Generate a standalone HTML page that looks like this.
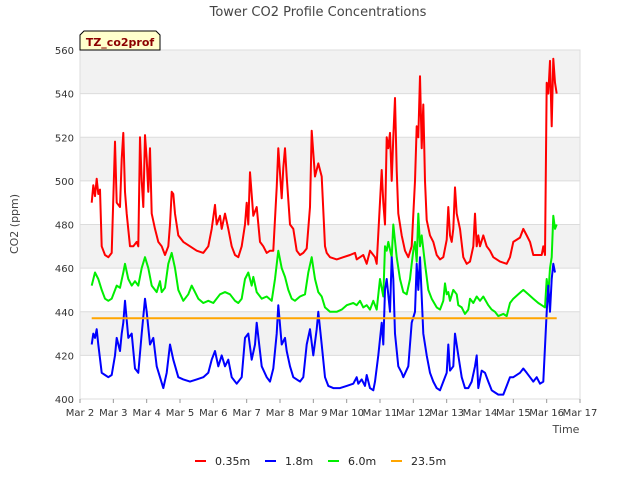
<!DOCTYPE html>
<html><head><meta charset="utf-8"><style>
body{margin:0;background:#fff;}
text{font-family:"DejaVu Sans","Liberation Sans",sans-serif;}
</style></head><body>
<svg id="chart" width="640" height="480" xmlns="http://www.w3.org/2000/svg">
<rect width="640" height="480" fill="#fff"/>
<g id="bands"></g>
<g id="grid"></g>
<rect x="80" y="50" width="500" height="349" fill="none" stroke="#ddd"/>
<g id="series"></g>
<g id="axes"></g>
<text x="318" y="16" text-anchor="middle" font-size="13" fill="#444">Tower CO2 Profile Concentrations</text>
<text transform="translate(18,224) rotate(-90)" text-anchor="middle" font-size="11" fill="#444">CO2 (ppm)</text>
<text x="566" y="433" text-anchor="middle" font-size="11" fill="#444">Time</text>
<g>
<path d="M84,31 L156,31 L160,35 L160,50 L80,50 L80,35 Z" fill="#ffffcc" stroke="#000" stroke-width="1"/>
<text x="120" y="46" text-anchor="middle" font-size="11" font-weight="bold" fill="#8b0000">TZ_co2prof</text>
</g>
<g id="legend"></g>
</svg>
<script>
const NS="http://www.w3.org/2000/svg";
const yTicks=[400,420,440,460,480,500,520,540,560];
const xTickLabels=["Mar 2","Mar 3","Mar 4","Mar 5","Mar 6","Mar 7","Mar 8","Mar 9","Mar 10","Mar 11","Mar 12","Mar 13","Mar 14","Mar 15","Mar 16","Mar 17"];
const xTickDays=[2,3,4,5,6,7,8,9,10,11,12,13,14,15,16,17];
const seriesNames=["0.35m","1.8m","6.0m","23.5m"];
const seriesColors=["#ff0000","#0000ff","#00ee00","#ffa500"];
const redT=[2.35,2.4,2.45,2.5,2.55,2.6,2.65,2.75,2.85,2.95,3.05,3.1,3.2,3.25,3.3,3.35,3.4,3.5,3.6,3.7,3.75,3.8,3.85,3.9,3.95,4.0,4.05,4.1,4.15,4.25,4.35,4.45,4.55,4.65,4.7,4.75,4.8,4.85,4.95,5.1,5.3,5.5,5.7,5.85,5.95,6.05,6.1,6.2,6.25,6.35,6.45,6.55,6.65,6.75,6.85,6.95,7.0,7.05,7.1,7.2,7.3,7.4,7.5,7.6,7.7,7.8,7.9,7.95,8.05,8.1,8.15,8.2,8.3,8.4,8.5,8.6,8.7,8.8,8.9,8.95,9.05,9.15,9.25,9.35,9.4,9.5,9.7,9.9,10.1,10.25,10.3,10.4,10.5,10.6,10.7,10.85,10.9,11.05,11.1,11.15,11.2,11.25,11.3,11.35,11.4,11.45,11.5,11.55,11.65,11.75,11.85,11.95,12.05,12.1,12.15,12.2,12.25,12.3,12.35,12.4,12.5,12.6,12.7,12.8,12.9,13.0,13.05,13.1,13.15,13.2,13.25,13.3,13.4,13.5,13.6,13.7,13.8,13.85,13.9,13.95,14.0,14.1,14.2,14.3,14.4,14.6,14.8,14.9,15.0,15.2,15.3,15.4,15.5,15.6,15.7,15.85,15.9,15.95,16.0,16.05,16.1,16.15,16.2,16.25,16.3];
const redV=[490,498,493,501,494,496,470,466,465,467,518,490,488,510,522,495,485,470,470,472,470,520,500,488,521,510,495,515,485,478,472,470,466,470,480,495,494,485,475,472,470,468,467,470,478,489,480,484,478,485,478,470,466,465,470,480,490,480,504,484,488,472,470,467,468,468,497,515,492,506,515,502,480,478,468,466,467,469,488,523,502,508,502,470,467,465,464,465,466,467,464,465,466,462,468,465,462,505,490,480,520,515,522,500,520,538,505,485,475,468,465,470,500,525,520,548,515,535,500,482,475,472,466,464,465,473,488,475,472,478,497,485,478,465,462,463,470,485,470,475,470,475,470,468,465,463,462,465,472,474,478,475,472,466,466,466,470,466,545,540,555,525,556,545,540];
const greenT=[2.35,2.45,2.55,2.65,2.75,2.85,2.95,3.1,3.2,3.3,3.35,3.45,3.55,3.65,3.75,3.85,3.95,4.05,4.15,4.3,4.4,4.45,4.55,4.65,4.75,4.85,4.95,5.1,5.25,5.35,5.45,5.55,5.7,5.85,6.0,6.2,6.35,6.5,6.65,6.75,6.85,6.95,7.05,7.15,7.2,7.3,7.45,7.6,7.75,7.85,7.95,8.05,8.15,8.25,8.35,8.45,8.6,8.75,8.85,8.95,9.05,9.15,9.25,9.35,9.5,9.7,9.85,10.0,10.2,10.3,10.4,10.5,10.6,10.7,10.8,10.9,11.0,11.1,11.15,11.2,11.25,11.35,11.4,11.5,11.6,11.7,11.8,11.9,11.95,12.0,12.05,12.1,12.15,12.2,12.25,12.35,12.45,12.55,12.7,12.8,12.9,12.95,13.0,13.05,13.1,13.2,13.3,13.35,13.45,13.55,13.65,13.7,13.8,13.9,14.0,14.1,14.25,14.35,14.45,14.55,14.7,14.8,14.9,15.0,15.15,15.3,15.45,15.6,15.75,15.85,15.95,16.0,16.05,16.1,16.15,16.2,16.25,16.3];
const greenV=[452,458,455,450,446,445,446,452,451,458,462,455,452,454,452,460,465,460,452,449,454,449,451,462,467,460,450,445,448,452,449,446,444,445,444,448,449,448,445,444,446,455,458,452,456,449,446,447,445,455,468,460,456,450,446,445,447,448,458,465,455,449,447,442,440,440,441,443,444,443,445,442,443,441,445,441,455,447,470,468,472,465,480,465,455,449,448,455,462,468,472,463,485,470,475,462,450,446,442,441,445,453,448,449,445,450,448,443,442,439,441,446,444,447,445,447,443,441,440,438,439,438,444,446,448,450,448,446,444,443,442,455,448,460,465,484,478,480];
const blueT=[2.35,2.4,2.45,2.5,2.55,2.65,2.75,2.85,2.95,3.05,3.1,3.2,3.25,3.3,3.35,3.45,3.55,3.65,3.75,3.85,3.95,4.0,4.1,4.2,4.3,4.4,4.5,4.6,4.7,4.8,4.95,5.1,5.3,5.5,5.7,5.85,5.95,6.05,6.15,6.25,6.35,6.45,6.55,6.7,6.85,6.95,7.05,7.15,7.25,7.3,7.45,7.6,7.7,7.8,7.9,7.95,8.05,8.15,8.2,8.3,8.4,8.6,8.7,8.8,8.9,9.0,9.1,9.15,9.25,9.35,9.45,9.6,9.8,10.0,10.2,10.3,10.35,10.45,10.55,10.6,10.7,10.8,10.85,10.95,11.05,11.1,11.15,11.2,11.3,11.35,11.4,11.45,11.55,11.65,11.7,11.85,11.95,12.05,12.1,12.15,12.2,12.3,12.4,12.5,12.6,12.7,12.8,12.9,13.0,13.05,13.1,13.2,13.25,13.35,13.45,13.55,13.65,13.75,13.85,13.9,13.95,14.05,14.15,14.25,14.35,14.45,14.55,14.7,14.8,14.9,15.0,15.2,15.3,15.4,15.5,15.6,15.7,15.8,15.9,16.0,16.05,16.1,16.15,16.2,16.25];
const blueV=[425,430,428,432,425,412,411,410,411,420,428,422,430,435,445,428,430,414,412,430,446,440,425,428,415,410,405,412,425,418,410,409,408,409,410,412,418,422,415,420,415,418,410,407,410,428,430,418,425,435,415,410,408,414,430,443,425,428,422,415,410,408,410,425,432,420,432,440,425,410,406,405,405,406,407,410,407,409,406,411,405,404,408,420,435,425,450,455,440,465,455,430,415,412,410,415,435,440,462,450,465,430,420,412,408,405,404,408,412,425,413,415,430,420,410,405,405,408,415,420,405,413,412,408,404,403,402,402,406,410,410,412,414,412,410,408,410,407,408,440,452,440,455,462,458];
const orangeT=[2.35,16.3];
const orangeV=[437,437];

const X0=80,X1=580,Y0=399,Y1=50;
function xs(d){return X0+(d-2)/(17-2)*(X1-X0);}
function ys(v){return Y0-(v-400)/(560-400)*(Y0-Y1);}
function mk(tag,attrs,parent){const e=document.createElementNS(NS,tag);for(const k in attrs)e.setAttribute(k,attrs[k]);parent.appendChild(e);return e;}

const bands=document.getElementById('bands');
for(let i=0;i<yTicks.length-1;i++){
  if(i%2===1){
    const r=mk('rect',{x:X0,y:ys(yTicks[i+1]),width:X1-X0,height:ys(yTicks[i])-ys(yTicks[i+1]),fill:'#f2f2f2'},bands);
    
    
  }
}
const grid=document.getElementById('grid');
const axes=document.getElementById('axes');
yTicks.forEach(v=>{
  const l=mk('line',{x1:X0,x2:X1,y1:ys(v),y2:ys(v),stroke:'#dcdcdc'},grid);
  
  
  const t=mk('text',{x:X0-6,y:ys(v)+4,'text-anchor':'end','font-size':'10',fill:'#333'},axes);
  t.textContent=v;
  
  
});
xTickDays.forEach((d,i)=>{
  const tk=mk('line',{x1:xs(d),x2:xs(d),y1:Y0,y2:Y0+4,stroke:'#999'},axes);
  
  
  const t=mk('text',{x:xs(d),y:Y0+17,'text-anchor':'middle','font-size':'10',fill:'#333'},axes);
  t.textContent=xTickLabels[i];
  
  
});
const sg=document.getElementById('series');
const allT=[redT,blueT,greenT,orangeT],allV=[redV,blueV,greenV,orangeV];
const order=[0,2,1,3];
order.forEach(i=>{
  const pts=allT[i].map((t,j)=>xs(t).toFixed(1)+','+ys(allV[i][j]).toFixed(1)).join(' ');
  const p=mk('polyline',{points:pts,fill:'none',stroke:seriesColors[i],'stroke-width':'2','stroke-linejoin':'round'},sg);
  
  
});
const lg=document.getElementById('legend');
const lx=[195,265,328,391];
seriesNames.forEach((n,i)=>{
  const g=mk('g',{},lg);
  
  
  mk('line',{x1:lx[i],x2:lx[i]+11,y1:461,y2:461,stroke:seriesColors[i],'stroke-width':'2'},g);
  const t=mk('text',{x:lx[i]+20,y:465,'font-size':'11',fill:'#222'},g);
  t.textContent=n;
});
</script>
</body></html>
